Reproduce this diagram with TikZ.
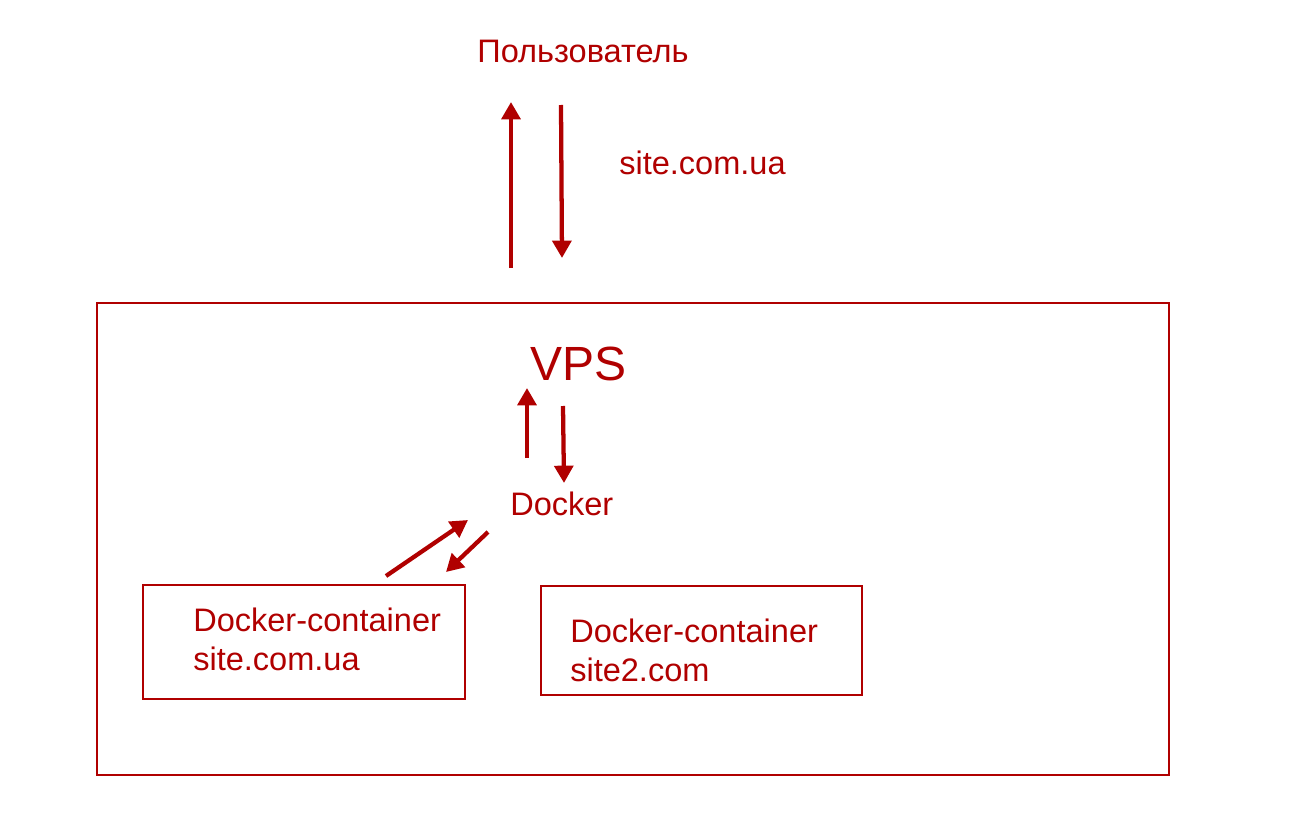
\documentclass[tikz,border=0pt]{standalone}
\usepackage{fontspec}
\setmainfont{Liberation Sans}
\usetikzlibrary{arrows.meta}
\definecolor{vpsred}{RGB}{176,0,0}
\begin{document}
\begin{tikzpicture}[x=0.75pt, y=-0.75pt,
    every node/.style={text=vpsred, inner sep=0pt, font=\fontsize{24.4}{29}\selectfont},
    flow/.style={-{Triangle[length=13pt, width=14pt]}, line width=3.2pt, draw=vpsred},
    box/.style={draw=vpsred, line width=1.5pt}]
    \useasboundingbox (0,0) rectangle (1297,824);
    % boxes
    \node[box, minimum width=804pt, minimum height=354pt] (vpsbox) at (633,539) {};
    \node[box, minimum width=241.5pt, minimum height=85.5pt] (cont1) at (304,642) {};
    \node[box, minimum width=240.75pt, minimum height=81.75pt] (cont2) at (701.5,640.5) {};
    % labels
    \node[anchor=base] (user) at (583,63) {Пользователь};
    \node[anchor=base west] (domain) at (619,175) {site.com.ua};
    \node[anchor=base west, font=\fontsize{36}{40}\selectfont] (vps) at (530,380) {VPS};
    \node[anchor=base west] (docker) at (510,515) {Docker};
    \node[anchor=base west, align=left] (site1) at (193,670) {Docker-container\\site.com.ua};
    \node[anchor=base west, align=left] (site2) at (570,681) {Docker-container\\site2.com};
    % arrow ends
    \coordinate (upA) at (511,268);   \coordinate (upB) at (511,102);
    \coordinate (dnA) at (561,105);   \coordinate (dnB) at (562,258);
    \coordinate (vupA) at (527,458);  \coordinate (vupB) at (527,388);
    \coordinate (vdnA) at (563,406);  \coordinate (vdnB) at (564,483);
    \coordinate (cupA) at (386,576);  \coordinate (cupB) at (468,520);
    \coordinate (cdnA) at (488,532);  \coordinate (cdnB) at (446,572);
    \draw[flow] (upA) -- (upB);
    \draw[flow] (dnA) -- (dnB);
    \draw[flow] (vupA) -- (vupB);
    \draw[flow] (vdnA) -- (vdnB);
    \draw[flow] (cupA) -- (cupB);
    \draw[flow] (cdnA) -- (cdnB);
\end{tikzpicture}
\end{document}
